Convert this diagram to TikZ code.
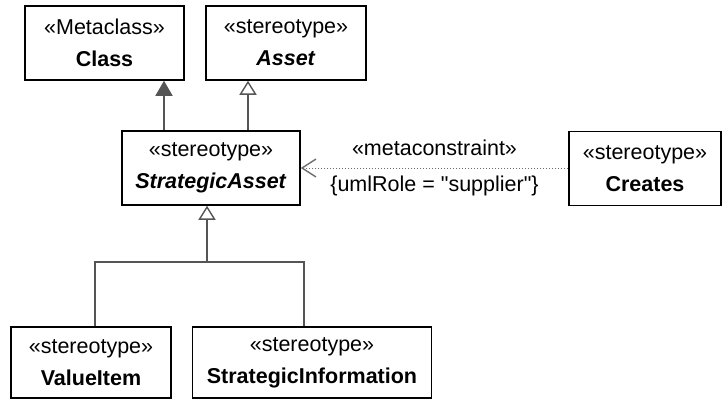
\documentclass[tikz,border=0pt]{standalone}
\usepackage{fontspec}
\setmainfont{Liberation Sans}[Ligatures=TeXOff]
\usetikzlibrary{arrows.meta}
\definecolor{linegray}{HTML}{555555}
\definecolor{dotgray}{HTML}{6E6E6E}

\begin{document}
\begin{tikzpicture}[x=1pt,y=-1pt,
	ubox/.style={draw, line width=1.5pt, inner sep=0pt, minimum height=74pt, align=center,
		font=\fontsize{21.5}{32}\selectfont},
	inh/.style={draw=linegray, line width=1.4pt},
	fillhead/.style={-{Triangle[length=15pt,width=17pt,fill=linegray]}},
	openhead/.style={-{Triangle[open,length=14pt,width=17pt,fill=white]}},
	meta/.style={draw=dotgray, line width=1pt, dotted,
		-{Straight Barb[length=14pt,width=18pt,line width=1.4pt]}},
	lbl/.style={font=\fontsize{21.5}{26}\selectfont, inner sep=0pt}]
\useasboundingbox (0,0) rectangle (723,400);
%
	\node[ubox, minimum width=159pt] (cls) at (104.5,43) {«Metaclass»\\\textbf{Class}};
	\node[ubox, minimum width=160pt] (asset) at (286,43) {«stereotype»\\\textbf{\textit{Asset}}};
	\node[ubox, minimum width=178pt] (sasset) at (211,168) {«stereotype»\\\textbf{\textit{StrategicAsset}}};
	\node[ubox, minimum width=152pt] (creates) at (645,168.5) {«stereotype»\\\textbf{Creates}};
	\node[ubox, minimum width=160pt, minimum height=71pt] (vitem) at (91,362.5) {«stereotype»\\\textbf{ValueItem}};
	\node[ubox, minimum width=239pt, minimum height=71pt] (sinfo) at (312,362.5) {«stereotype»\\\textbf{StrategicInformation}};
%
	\draw[inh, fillhead] ([xshift=-47pt]sasset.north) -- ([xshift=-47pt]sasset.north |- cls.south);
	\draw[inh, openhead] ([xshift=37pt]sasset.north) -- ([xshift=37pt]sasset.north |- asset.south);
%
	\coordinate (split) at (207,262);
	\draw[inh, openhead] (split) -- (split |- sasset.south);
	\draw[inh] ([xshift=4pt]vitem.north) |- (split) -| ([xshift=-8pt]sinfo.north);
%
	\draw[meta] (creates.west |- sasset.east) -- (sasset.east)
		node[lbl, pos=.5, yshift=20pt] {«metaconstraint»}
		node[lbl, pos=.5, yshift=-18pt] {\{umlRole = "supplier"\}};
\end{tikzpicture}
\end{document}
